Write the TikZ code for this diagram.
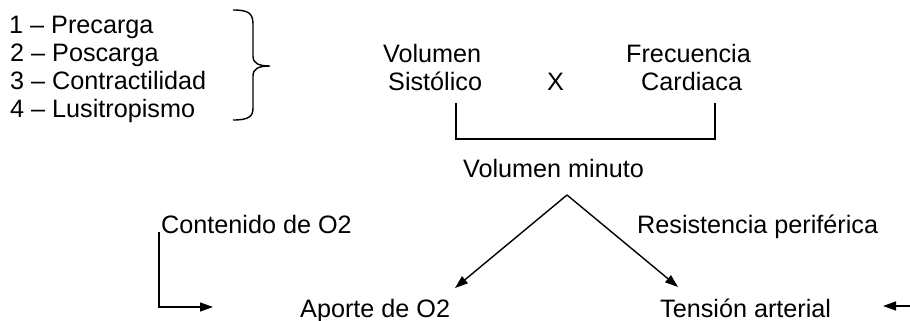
\documentclass[tikz,border=0pt]{standalone}
\usepackage{fontspec}
\setmainfont{Liberation Sans}
\usetikzlibrary{arrows.meta}
\begin{document}
\begin{tikzpicture}[x=1pt,y=-1pt,
  txt/.style={anchor=base west,inner sep=0pt,font=\fontsize{25.2}{28}\selectfont},
  ln/.style={line width=1.4pt},
  arr/.style={ln,-{Triangle[length=13pt,width=9pt]}}]
\useasboundingbox (0,0) rectangle (910,321);
% left list
\node[txt] (l1) at (9,34) {1 – Precarga};
\node[txt] (l2) at (10,61.5) {2 – Poscarga};
\node[txt] (l3) at (10,89) {3 – Contractilidad};
\node[txt] (l4) at (10,117) {4 – Lusitropismo};
% brace
\draw[ln] (233,10) .. controls (248,10) and (253,13) .. (253,24) -- (253,56)
  .. controls (253,63) and (258,66) .. (270,66)
  .. controls (258,66) and (253,69) .. (253,76) -- (253,108)
  .. controls (253,117) and (248,120) .. (233,120);
% top factors
\node[txt] (vol) at (383,63) {Volumen};
\node[txt] (sis) at (388,90) {Sistólico};
\node[txt] (x) at (547,90) {X};
\node[txt] (fre) at (626,63) {Frecuencia};
\node[txt] (car) at (641,90) {Cardiaca};
% bracket
\coordinate (bl) at (456,103);
\coordinate (blb) at (456,139);
\coordinate (brb) at (715,139);
\coordinate (br) at (715,103);
\draw[ln] (bl) -- (blb) -- (brb) -- (br);
\node[txt] (vm) at (463,177) {Volumen minuto};
% V arrows
\coordinate (apex) at (567,195);
\coordinate (apIn) at (455,288);
\coordinate (taIn) at (678,287);
\draw[arr] (apex) -- (apIn);
\draw[arr] (apex) -- (taIn);
\node[txt] (cont) at (161,233) {Contenido de O2};
\node[txt] (res) at (637,233) {Resistencia periférica};
\node[txt] (apo) at (300,317) {Aporte de O2};
\node[txt] (ten) at (660,317) {Tensión arterial};
% L arrow
\coordinate (cTop) at (159,232);
\coordinate (cBot) at (159,307);
\coordinate (cTip) at (213,307);
\draw[arr] (cTop) -- (cBot) -- (cTip);
% right arrow
\coordinate (rStart) at (910,306);
\coordinate (rTip) at (883,306);
\draw[arr] (rStart) -- (rTip);
\end{tikzpicture}
\end{document}
